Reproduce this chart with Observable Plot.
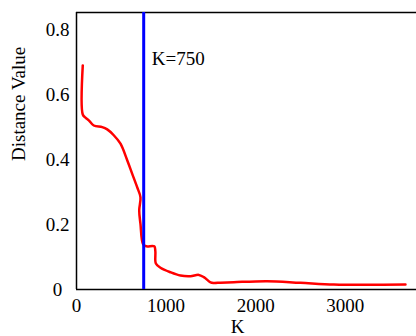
<!DOCTYPE html>
<html>
<head>
<meta charset="utf-8">
<script src="https://cdn.jsdelivr.net/npm/d3@7"></script>
<script src="https://cdn.jsdelivr.net/npm/@observablehq/plot@0.6"></script>
<style>
  html, body { margin: 0; padding: 0; background: #fff; }
  #chart { width: 416px; height: 336px; overflow: hidden; }
</style>
</head>
<body>
<div id="chart"></div>
<script>
// Data
const kValues = [70, 70, 100, 137, 193, 287, 343, 416, 491, 566, 622, 677, 714, 700, 714, 744, 781, 868, 880, 886, 937, 1049, 1161, 1272, 1365, 1421, 1496, 1532, 1607, 1756, 2128, 2500, 2872, 3244, 3672];
const distanceValues = [0.69, 0.539, 0.529, 0.521, 0.505, 0.500, 0.493, 0.475, 0.449, 0.398, 0.356, 0.315, 0.284, 0.243, 0.202, 0.139, 0.133, 0.133, 0.118, 0.080, 0.067, 0.053, 0.043, 0.041, 0.045, 0.038, 0.022, 0.020, 0.021, 0.0225, 0.0256, 0.0206, 0.0154, 0.0145, 0.0154];
const markerK = 750;
const markerLabel = "K=750";
const xTicks = [0, 1000, 2000, 3000];
const xTickLabels = ["0", "1000", "2000", "3000"];
const yTicks = [0, 0.2, 0.4, 0.6, 0.8];
const yTickLabels = ["0", "0.2", "0.4", "0.6", "0.8"];
const xLabel = "K";
const yLabel = "Distance Value";
const xDomain = [0, 3795];
const yDomain = [0, 0.853];

const data = kValues.map((k, i) => ({k, d: distanceValues[i]}));
const serif = "Liberation Serif";
const txt = {fontSize: 19, fontFamily: serif, fill: "#000"};

const chart = Plot.plot({
  width: 416,
  height: 336,
  marginLeft: 76,
  marginRight: 0,
  marginTop: 12,
  marginBottom: 47,
  style: {fontFamily: serif, fontSize: "19px", color: "#000", background: "#fff"},
  x: {domain: xDomain, axis: null},
  y: {domain: yDomain, axis: null},
  marks: [
    Plot.text(xTicks, {x: (d) => d, text: (d, i) => xTickLabels[i], frameAnchor: "bottom", dy: 16, lineAnchor: "middle", ...txt}),
    Plot.text(yTicks, {y: (d) => d, text: (d, i) => yTickLabels[i], frameAnchor: "left", dx: -19, textAnchor: "middle", lineAnchor: "middle", ...txt}),
    Plot.ruleY([yDomain[1]], {stroke: "#000", strokeWidth: 1.5}),
    Plot.ruleY([yDomain[0]], {stroke: "#000", strokeWidth: 1.5}),
    Plot.ruleX([xDomain[0]], {stroke: "#000", strokeWidth: 1.5}),
    Plot.line(data, {x: "k", y: "d", stroke: "#ff0000", strokeWidth: 2.5, curve: "catmull-rom"}),
    Plot.ruleX([markerK], {stroke: "#0000ff", strokeWidth: 3}),
    Plot.text([markerLabel], {x: [markerK], frameAnchor: "top", dx: 8, dy: 46, textAnchor: "start", lineAnchor: "middle", ...txt}),
    Plot.text([xLabel], {frameAnchor: "bottom", dx: -9, dy: 37, lineAnchor: "middle", ...txt}),
    Plot.text([yLabel], {frameAnchor: "left", rotate: -90, dx: -58, dy: 10, lineAnchor: "middle", ...txt})
  ]
});
document.getElementById("chart").appendChild(chart);
</script>
</body>
</html>
